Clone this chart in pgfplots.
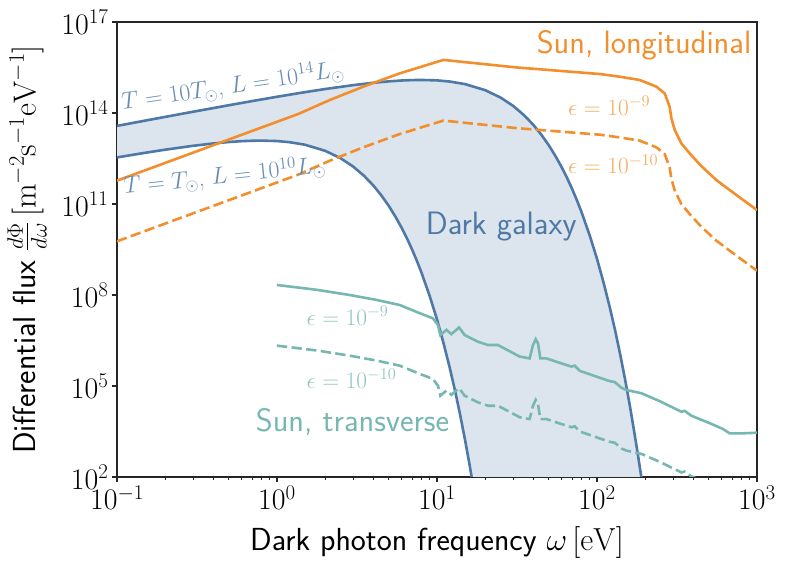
\RequirePackage{fix-cm}
\documentclass[border=0pt]{standalone}
\usepackage{pgfplots}
\usepackage{pgfplotstable}
\usepgfplotslibrary{fillbetween}
\pgfplotsset{compat=1.18}
\definecolor{tbblue}{HTML}{4E79A7}
\definecolor{tborange}{HTML}{F28E2B}
\definecolor{tbteal}{HTML}{76B7B2}

% all values are log10(omega/eV) and log10(flux)
\pgfplotstableread{
lx ly
-1 13.575
-0.824 13.749
-0.699 13.871
-0.523 14.043
-0.301 14.256
-0.155 14.393
0 14.535
0.176 14.688
0.301 14.790
0.477 14.919
0.602 14.996
0.699 15.043
0.778 15.071
0.845 15.085
0.903 15.089
1 15.075
1.079 15.037
1.176 14.952
1.301 14.753
1.398 14.507
1.477 14.230
1.544 13.928
1.602 13.610
1.653 13.278
1.699 12.935
1.740 12.584
1.778 12.225
1.813 11.860
1.845 11.490
1.875 11.116
1.903 10.738
1.954 9.971
2 9.194
2.041 8.408
2.079 7.615
2.114 6.816
2.146 6.012
2.176 5.203
2.204 4.391
2.230 3.575
2.255 2.756
2.279 1.934
2.301 1.110
}\galup

\pgfplotstableread{
lx ly
-1 12.535
-0.824 12.688
-0.699 12.790
-0.523 12.919
-0.398 12.996
-0.301 13.043
-0.222 13.071
-0.155 13.085
-0.097 13.089
0 13.075
0.079 13.037
0.176 12.952
0.301 12.753
0.398 12.507
0.477 12.230
0.544 11.928
0.602 11.610
0.653 11.278
0.699 10.935
0.740 10.584
0.778 10.225
0.813 9.860
0.845 9.490
0.875 9.116
0.903 8.738
0.954 7.971
1.0 7.194
1.041 6.408
1.079 5.615
1.114 4.816
1.146 4.012
1.176 3.203
1.204 2.391
1.230 1.575
1.255 0.756
1.279 -0.066
}\gallow

\pgfplotstableread{
lx ly
-1 11.77
0.134 13.97
0.331 14.43
0.54 14.87
0.769 15.31
1.04 15.75
1.5 15.50
2.017 15.285
2.142 15.196
2.267 15.088
2.371 14.868
2.423 14.648
2.454 14.208
2.465 13.824
2.486 13.439
2.527 13.00
2.579 12.67
2.65 12.26
2.746 11.79
2.87 11.30
3.0 10.80
}\sunlong

\pgfplotstableread{
lx ly
-1 9.77
0.134 11.97
0.331 12.43
0.54 12.87
0.769 13.31
1.04 13.75
1.5 13.50
2.017 13.285
2.142 13.196
2.267 13.088
2.371 12.868
2.423 12.648
2.454 12.208
2.465 11.824
2.486 11.439
2.527 11.00
2.579 10.67
2.65 10.26
2.746 9.79
2.87 9.30
3.0 8.80
}\sunlongb

\pgfplotstableread{
lx ly
0.0 8.33
0.25 8.17
0.454 8.00
0.62 7.84
0.767 7.67
0.892 7.40
0.975 7.23
1.006 7.01
1.021 6.68
1.059 6.85
1.090 6.71
1.138 6.93
1.173 6.68
1.256 6.46
1.319 6.35
1.381 6.35
1.517 5.97
1.579 5.91
1.600 6.35
1.617 6.54
1.631 6.41
1.646 5.91
1.684 5.91
1.746 5.80
1.840 5.64
1.861 5.67
1.892 5.50
2.079 5.16
2.111 5.13
2.153 4.94
2.184 4.87
2.278 4.76
2.392 4.50
2.528 4.15
2.548 4.18
2.590 4.02
2.715 3.75
2.788 3.58
2.829 3.44
2.913 3.44
3.0 3.46
}\suntr

\pgfplotstableread{
lx ly
0.0 6.33
0.25 6.17
0.454 6.00
0.62 5.84
0.767 5.67
0.892 5.40
0.975 5.23
1.006 5.01
1.021 4.68
1.059 4.85
1.090 4.71
1.138 4.93
1.173 4.68
1.256 4.46
1.319 4.35
1.381 4.35
1.517 3.97
1.579 3.91
1.600 4.35
1.617 4.54
1.631 4.41
1.646 3.91
1.684 3.91
1.746 3.80
1.840 3.64
1.861 3.67
1.892 3.50
2.079 3.16
2.111 3.13
2.153 2.94
2.184 2.87
2.278 2.76
2.392 2.50
2.528 2.15
2.548 2.18
2.590 2.02
2.715 1.75
2.788 1.58
2.829 1.44
2.913 1.44
3.0 1.46
}\suntrb

\begin{document}
\begin{tikzpicture}
\begin{axis}[
  name=ax,
  at={(0,0)}, anchor=south west,
  scale only axis,
  width=640bp, height=455bp,
  xmin=-1, xmax=3, ymin=2, ymax=17,
  xtick={-1,0,1,2,3},
  xticklabels={$10^{-1}$,$10^{0}$,$10^{1}$,$10^{2}$,$10^{3}$},
  minor xtick={-0.69897,-0.52288,-0.39794,-0.30103,-0.22185,-0.15490,-0.09691,-0.04576,
    0.30103,0.47712,0.60206,0.69897,0.77815,0.84510,0.90309,0.95424,
    1.30103,1.47712,1.60206,1.69897,1.77815,1.84510,1.90309,1.95424,
    2.30103,2.47712,2.60206,2.69897,2.77815,2.84510,2.90309,2.95424},
  ytick={2,5,8,11,14,17},
  yticklabels={$10^{2}$,$10^{5}$,$10^{8}$,$10^{11}$,$10^{14}$,$10^{17}$},
  tick align=outside,
  tick pos=left,
  major tick length=5bp,
  minor tick length=3bp,
  every tick/.style={black!85, line width=1.1bp},
  every minor tick/.style={black!85, line width=0.8bp},
  axis line style={black!85, line width=1.1bp},
  tick label style={font=\fontsize{30}{36}\selectfont},
  label style={font=\fontsize{32}{38}\selectfont},
  xlabel={\sffamily Dark photon frequency $\omega\,[\mathrm{eV}]$},
  ylabel={\sffamily Differential flux $\frac{d\Phi}{d\omega}\,[\mathrm{m^{-2}s^{-1}eV^{-1}}]$},
  xlabel style={yshift=-10bp},
  ylabel style={yshift=8bp},
]
\addplot[name path=up, draw=none, forget plot] table[x=lx,y=ly]{\galup};
\addplot[name path=lo, draw=none, forget plot] table[x=lx,y=ly]{\gallow};
\addplot[fill=tbblue!20, draw=none] fill between[of=up and lo];
\addplot[tbblue, line width=2.6bp] table[x=lx,y=ly]{\galup};
\addplot[tbblue, line width=2.6bp] table[x=lx,y=ly]{\gallow};
\addplot[tborange, line width=2.6bp] table[x=lx,y=ly]{\sunlong};
\addplot[tborange, line width=2.6bp, dash pattern=on 10.3bp off 4.4bp] table[x=lx,y=ly]{\sunlongb};
\addplot[tbteal, line width=2.6bp] table[x=lx,y=ly]{\suntr};
\addplot[tbteal, line width=2.6bp, dash pattern=on 10.3bp off 4.4bp] table[x=lx,y=ly]{\suntrb};

\node[anchor=base east, inner sep=0, text=tborange, font=\sffamily\fontsize{32.5}{38}\selectfont] at (rel axis cs:0.9913,0.931) {Sun, longitudinal};
\node[anchor=base west, inner sep=0, text=tbblue, font=\sffamily\fontsize{32.5}{38}\selectfont] at (rel axis cs:0.4823,0.532) {Dark galaxy};
\node[anchor=base west, inner sep=0, text=tbteal, font=\sffamily\fontsize{32.5}{38}\selectfont] at (rel axis cs:0.2167,0.0996) {Sun, transverse};
\node[anchor=base west, inner sep=0, text=tborange!75, font=\fontsize{23.5}{28}\selectfont] at (rel axis cs:0.7047,0.7956) {$\epsilon=10^{-9}$};
\node[anchor=base west, inner sep=0, text=tborange!75, font=\fontsize{23.5}{28}\selectfont] at (rel axis cs:0.7047,0.666) {$\epsilon=10^{-10}$};
\node[anchor=base west, inner sep=0, text=tbteal!80, font=\fontsize{23.5}{28}\selectfont] at (rel axis cs:0.2959,0.334) {$\epsilon=10^{-9}$};
\node[anchor=base west, inner sep=0, text=tbteal!80, font=\fontsize{23.5}{28}\selectfont] at (rel axis cs:0.2959,0.195) {$\epsilon=10^{-10}$};
\node[anchor=base west, inner sep=0, rotate=8.5, text=tbblue!85, font=\fontsize{24}{28}\selectfont] at (rel axis cs:0.009,0.807) {$T=10T_\odot$, $L=10^{14}L_\odot$};
\node[anchor=base west, inner sep=0, rotate=6, text=tbblue!85, font=\fontsize{24}{28}\selectfont] at (rel axis cs:0.012,0.622) {$T=T_\odot$, $L=10^{10}L_\odot$};
\end{axis}
\path ([shift={(-117bp,-91bp)}]ax.south west) rectangle ([shift={(33bp,22bp)}]ax.north east);
\end{tikzpicture}
\end{document}
